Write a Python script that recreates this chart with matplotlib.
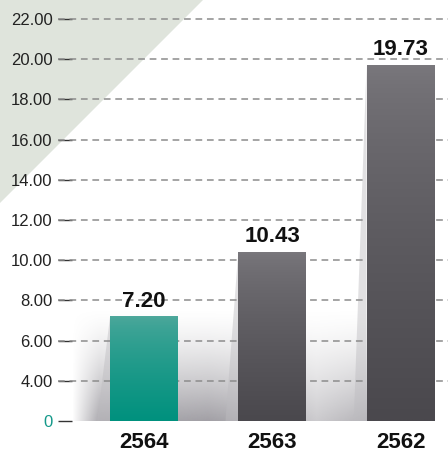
import numpy as np
import matplotlib
matplotlib.use("Agg")
import matplotlib.pyplot as plt
from matplotlib.colors import to_rgb
from matplotlib.patches import Polygon

# chart data
years = ["2564", "2563", "2562"]
values = [7.20, 10.43, 19.73]
tick_pos = [2, 4, 6, 8, 10, 12, 14, 16, 18, 20, 22]
tick_labels = ["0", "4.00", "6.00", "8.00", "10.00", "12.00", "14.00",
               "16.00", "18.00", "20.00", "22.00"]

# colours (top, bottom) for the bar gradients
bar_grads = [("#4ea89c", "#00917e"), ("#7a787d", "#4a484d"), ("#7a787d", "#4a484d")]

plt.rcParams["font.family"] = ["Liberation Sans", "DejaVu Sans"]

fig = plt.figure(figsize=(4.48, 4.57), dpi=100)

# light triangle in the upper-left corner
tri = Polygon([(0, 1), (203 / 448, 1), (0, 1 - 203 / 457)], closed=True,
              transform=fig.transFigure, facecolor="#dfe4dc", edgecolor="none", zorder=0)
fig.patches.append(tri)

ax = fig.add_axes([58 / 448, 36 / 457, 1 - 58 / 448, 421 / 457])
ax.set_zorder(2)
ax.patch.set_alpha(0)

x = np.arange(len(years))
width = 0.53

# soft grey band behind the bars (white at top, grey at the bottom)
band_x0, band_x1 = -0.56, 1.74
band = np.zeros((100, 300, 4))
band[..., :3] = to_rgb("#9d9ba1")
vert = np.linspace(0, 1, 100)[:, None] ** 1.4
bx = np.linspace(band_x0, band_x1, 300)
horiz = np.interp(bx, [-0.56, -0.35, 0.5, 1.0, 1.35, 1.74], [0, 0.9, 1.0, 0.8, 0.55, 0.8])
band[..., 3] = vert * horiz[None, :] * 0.95
ax.imshow(band, extent=[band_x0, band_x1, 2, 7.6], aspect="auto", zorder=1,
          interpolation="bilinear")

# slanted shadows on the left side of each bar
for xi, v in zip(x, values):
    left = xi - width / 2
    shadow = Polygon([(left - 0.1, 2), (left, v), (left, 2)], closed=True,
                     facecolor="#bdbcc0", edgecolor="none", alpha=0.45, zorder=1.5)
    ax.add_patch(shadow)

# dashed grid lines
for t in tick_pos[1:]:
    ax.axhline(t, color="#8c8c8c", linewidth=1.1, dashes=(4.4, 3.1), zorder=2)

bars = ax.bar(x, values, width=width, color=[g[1] for g in bar_grads], zorder=3)

for b, (top, bottom) in zip(bars, bar_grads):
    grad = np.linspace(0, 1, 100)[:, None] ** 0.7
    c_top = np.array(to_rgb(top))
    c_bot = np.array(to_rgb(bottom))
    img = c_top * (1 - grad[..., None]) + c_bot * grad[..., None]
    img = np.repeat(img, 2, axis=1)
    x0 = b.get_x()
    im = ax.imshow(img, extent=[x0, x0 + b.get_width(), 2, b.get_height()],
                   aspect="auto", zorder=3.5, interpolation="bilinear")
    im.set_clip_path(b)

for xi, v in zip(x, values):
    ax.annotate(f"{v:.2f}", (xi, v), xytext=(0, 3), textcoords="offset points",
                ha="center", va="bottom", fontsize=16, fontweight="bold", color="#111111",
                zorder=5)

ax.set_xlim(-0.671, 2.370)
ax.set_ylim(2, 22.945)

ax.set_yticks(tick_pos)
ax.set_yticklabels(tick_labels, fontsize=12, color="#222222")
ax.get_yticklabels()[0].set_color("#14998a")
ax.tick_params(axis="y", direction="in", length=10, width=1, color="#333333", pad=4)

ax.set_xticks(x)
ax.set_xticklabels(years, fontsize=16, fontweight="bold", color="#111111")
ax.tick_params(axis="x", length=0, pad=8)

for s in ax.spines.values():
    s.set_visible(False)

fig.savefig("out.png", dpi=100)
